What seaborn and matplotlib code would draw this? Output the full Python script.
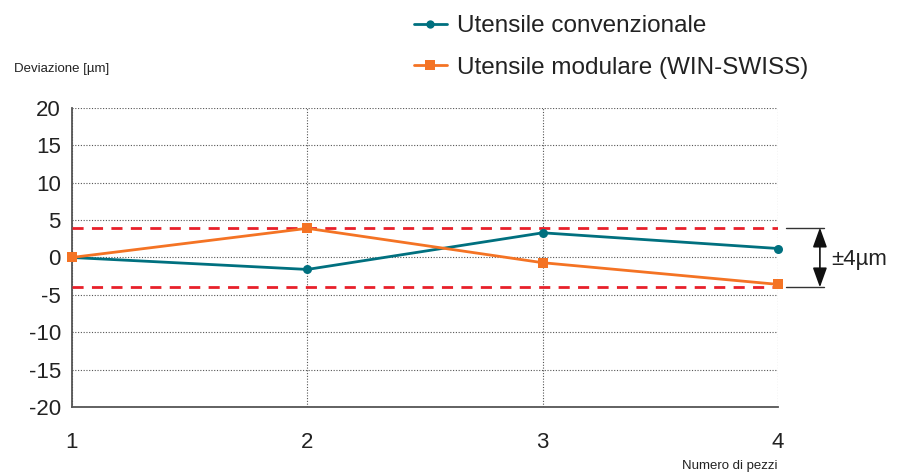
import matplotlib
matplotlib.use("Agg")
import matplotlib.pyplot as plt
import seaborn as sns
import pandas as pd
from matplotlib.lines import Line2D

# Measured deviation per workpiece
pieces = [1, 2, 3, 4]
conventional = [0.0, -1.6, 3.3, 1.2]
modular = [0.0, 3.9, -0.7, -3.6]
tolerance = 4
y_ticks = [-20, -15, -10, -5, 0, 5, 10, 15, 20]

label_conv = "Utensile convenzionale"
label_mod = "Utensile modulare (WIN-SWISS)"

teal = "#00707F"
orange = "#F47324"
red = "#E8202A"

sns.set_style("white")
plt.rcParams["font.family"] = ["Liberation Sans", "DejaVu Sans"]
plt.rcParams["axes.unicode_minus"] = False

df = pd.DataFrame({
    "pezzo": pieces * 2,
    "dev": conventional + modular,
    "serie": [label_conv] * 4 + [label_mod] * 4,
})

fig = plt.figure(figsize=(9.01, 4.74), dpi=100)
ax = fig.add_axes([0.0799, 0.1414, 0.7836, 0.6308])

sns.lineplot(
    data=df, x="pezzo", y="dev", hue="serie", style="serie",
    palette={label_conv: teal, label_mod: orange},
    markers={label_conv: "o", label_mod: "s"},
    dashes=False, linewidth=2.0, markersize=6.5, markeredgewidth=0,
    ax=ax, legend=False, zorder=5,
)
for line in ax.lines:
    if matplotlib.colors.to_hex(line.get_color()) == orange.lower():
        line.set_markersize(7.5)
    line.set_clip_on(False)

# tolerance band
for yv in (tolerance, -tolerance):
    ax.axhline(yv, color=red, linestyle=(0, (4, 3)), linewidth=2.0, zorder=3)

ax.set_xlim(1, 4)
ax.set_ylim(-20, 20)
ax.set_xticks(pieces)
ax.set_yticks(y_ticks)
ax.set_yticklabels([str(v) for v in y_ticks])
ax.set_xlabel("")
ax.set_ylabel("")
ax.tick_params(axis="both", length=0, labelsize=16, colors="#222222")
ax.tick_params(axis="y", pad=8)
ax.tick_params(axis="x", pad=18)
ax.grid(True, linestyle=(0, (1, 1.5)), color="#555555", linewidth=0.8)

for side in ("top", "right"):
    ax.spines[side].set_visible(False)
ax.spines["left"].set_color("#555555")
ax.spines["left"].set_linewidth(1.3)
ax.spines["bottom"].set_color("#555555")
ax.spines["bottom"].set_linewidth(1.3)

# tolerance dimension marker to the right of the plot
for yv in (tolerance, -tolerance):
    ax.plot([4.034, 4.195], [yv, yv], color="#333333", linewidth=1.0, clip_on=False)
ax.annotate("", xy=(4.178, -tolerance), xytext=(4.178, tolerance),
            arrowprops=dict(arrowstyle="<|-|>,head_length=1.0,head_width=0.36",
                            color="#111111", lw=1.2,
                            mutation_scale=12, shrinkA=0, shrinkB=0),
            annotation_clip=False)
ax.text(4.225, -0.3, "±4µm", fontsize=16, va="center", ha="left", color="#222222")

# axis captions
fig.text(0.0155, 0.855, "Deviazione [µm]", fontsize=9.5, color="#222222", va="center")
fig.text(0.863, 0.005, "Numero di pezzi", fontsize=9.5, color="#222222", ha="right", va="bottom")

# legend
handles = [
    Line2D([], [], color=teal, marker="o", markersize=6, markeredgewidth=0, linewidth=2.0),
    Line2D([], [], color=orange, marker="s", markersize=7.5, markeredgewidth=0, linewidth=2.0),
]
fig.legend(handles, [label_conv, label_mod], loc="upper left",
           bbox_to_anchor=(0.4595, 0.968), frameon=False, fontsize=17.5,
           handlelength=1.35, handletextpad=0.43, labelspacing=0.8, borderaxespad=0,
           borderpad=0, labelcolor="#222222")

fig.savefig("out.png", dpi=100)
